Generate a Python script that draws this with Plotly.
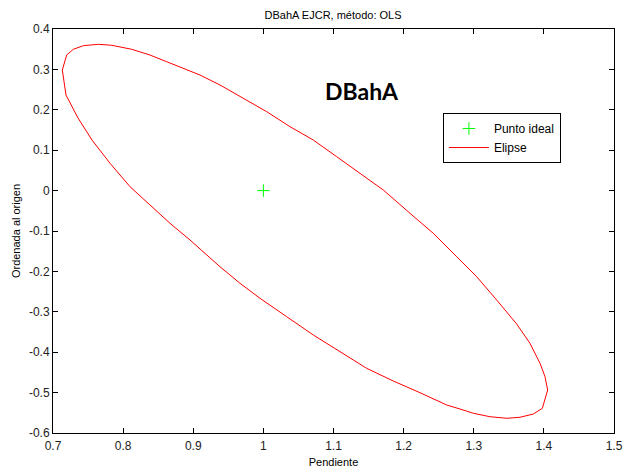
import plotly.graph_objects as go

# Ellipse points (pendiente, ordenada)
ellipse_x = [0.7133, 0.7195, 0.7290, 0.7432, 0.7646, 0.7837, 0.8122, 0.8383, 0.8621,
             0.9096, 0.9381, 0.9762, 1.0048, 1.0380, 1.0712, 1.1046, 1.1378, 1.1710,
             1.2091, 1.2423, 1.2757, 1.3042, 1.3327, 1.3612, 1.3802, 1.3945, 1.4016,
             1.4054, 1.3978, 1.3850, 1.3660, 1.3470, 1.3232, 1.2994, 1.2804, 1.2614,
             1.2233, 1.1853, 1.1473, 1.1093, 1.0712, 1.0333, 0.9952, 0.9667, 0.9381,
             0.8954, 0.8668, 0.8383, 0.8098, 0.7813, 0.7556, 0.7357, 0.7185, 0.7133]
ellipse_y = [0.2985, 0.3356, 0.3498, 0.3587, 0.3621, 0.3597, 0.3498, 0.3356, 0.3191,
             0.2861, 0.2614, 0.2243, 0.1953, 0.1582, 0.1252, 0.0839, 0.0428, 0.0015,
             -0.0562, -0.1057, -0.1636, -0.2131, -0.2708, -0.3302, -0.3780, -0.4275, -0.4606,
             -0.4936, -0.5389, -0.5530, -0.5611, -0.5636, -0.5597, -0.5512, -0.5406, -0.5307,
             -0.5002, -0.4713, -0.4399, -0.3988, -0.3574, -0.3121, -0.2666, -0.2295, -0.1884,
             -0.1223, -0.0809, -0.0356, 0.0097, 0.0676, 0.1252, 0.1797, 0.2366, 0.2985]

ideal_x = [1.0]
ideal_y = [0.0]

x_ticks = [0.7, 0.8, 0.9, 1.0, 1.1, 1.2, 1.3, 1.4, 1.5]
x_ticktext = ["0.7", "0.8", "0.9", "1", "1.1", "1.2", "1.3", "1.4", "1.5"]
y_ticks = [0.4, 0.3, 0.2, 0.1, 0.0, -0.1, -0.2, -0.3, -0.4, -0.5, -0.6]
y_ticktext = ["0.4", "0.3", "0.2", "0.1", "0", "-0.1", "-0.2", "-0.3", "-0.4", "-0.5", "-0.6"]

FONT = "Liberation Sans, Arial, sans-serif"

fig = go.Figure()
fig.add_trace(go.Scatter(x=ideal_x, y=ideal_y, mode="markers", name="Punto ideal",
                         marker=dict(symbol="cross-thin", size=9, color="#00ff00",
                                     line=dict(color="#00ff00", width=1))))
fig.add_trace(go.Scatter(x=ellipse_x, y=ellipse_y, mode="lines", name="Elipse",
                         line=dict(color="#ff0000", width=1)))

fig.add_annotation(x=1.14, y=0.246, xref="x", yref="y", text="<b>DBahA</b>",
                   showarrow=False, font=dict(family="Lato, Open Sans, sans-serif", size=23, color="black"))

axis_common = dict(showline=True, linecolor="black", linewidth=1, mirror="ticks",
                   ticks="inside", ticklen=5, tickcolor="black", showgrid=False,
                   zeroline=False, automargin=False,
                   tickfont=dict(family=FONT, size=12, color="#222"))

fig.update_layout(
    width=626, height=472,
    margin=dict(l=53, r=12, t=29, b=39, autoexpand=False),
    paper_bgcolor="white", plot_bgcolor="white",
    title=dict(text="DBahA EJCR, método: OLS", x=0.532, xanchor="center", y=0.968, yanchor="middle",
               font=dict(family=FONT, size=11, color="black")),
    xaxis=dict(range=[0.7, 1.5], tickvals=x_ticks, ticktext=x_ticktext, ticklabelstandoff=2,
               title=dict(text="Pendiente", font=dict(family=FONT, size=11, color="black"), standoff=5),
               **axis_common),
    yaxis=dict(range=[-0.6, 0.4], tickvals=y_ticks, ticktext=y_ticktext,
               title=dict(text="Ordenada al origen", font=dict(family=FONT, size=11, color="black"), standoff=6),
               **axis_common),
    legend=dict(x=0.695, y=0.792, xanchor="left", yanchor="top",
                bgcolor="white", bordercolor="black", borderwidth=1,
                font=dict(family=FONT, size=12, color="black"),
                tracegroupgap=0, itemwidth=40),
    showlegend=True,
)

fig.write_html("out.html")
